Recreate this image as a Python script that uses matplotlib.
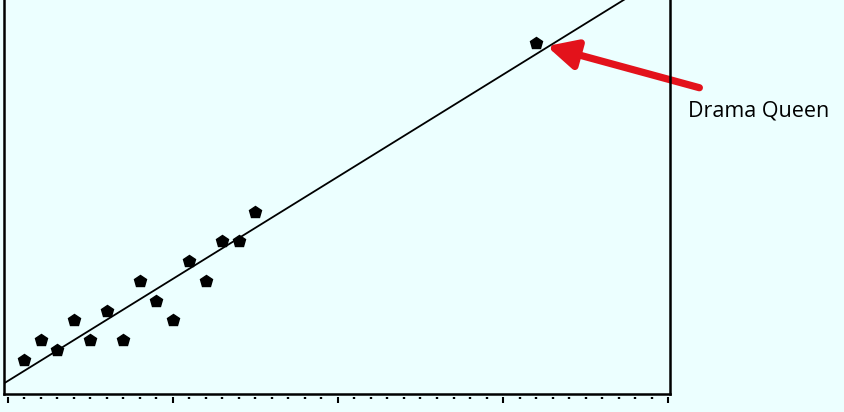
import numpy as np
import matplotlib
matplotlib.use("Agg")
import matplotlib.pyplot as plt
from matplotlib.ticker import MultipleLocator

# scatter values (x in minor-tick units)
x_vals = [1, 2, 3, 4, 5, 6, 7, 8, 9, 10, 11, 12, 13, 14, 15, 32]
y_vals = [3, 5, 4, 7, 5, 8, 5, 11, 9, 7, 13, 11, 15, 15, 18, 35]
outlier_label = "Drama Queen"

bg = "#ECFFFF"


def main():
    x = np.array(x_vals, dtype=float)
    y = np.array(y_vals, dtype=float)
    slope, icpt = np.polyfit(x, y, 1)

    fig = plt.figure(figsize=(8.44, 4.12), dpi=100, facecolor=bg)
    ax = fig.add_axes([4 / 844, 18 / 412, 666 / 844, 394 / 412], facecolor=bg)

    ax.set_xlim(-0.24, 40.12)
    ax.set_ylim(-0.43, 39.36)

    # fit line across the whole axis
    xl = np.array(ax.get_xlim())
    ax.plot(xl, icpt + slope * xl, color="black", lw=1.3, zorder=2)
    ax.plot(x, y, linestyle="none", marker="p", ms=9, color="black", zorder=3)

    # spines
    ax.spines["top"].set_visible(False)
    for s in ["left", "right", "bottom"]:
        ax.spines[s].set_linewidth(1.8)
        ax.spines[s].set_color("black")
    ax.set_yticks([])
    ax.tick_params(axis="x", which="both", length=0, labelbottom=False)

    # detached tick row under the axis
    sec = ax.secondary_xaxis(-0.008)
    sec.spines["bottom"].set_visible(False)
    sec.xaxis.set_major_locator(MultipleLocator(10))
    sec.xaxis.set_minor_locator(MultipleLocator(1))
    sec.tick_params(which="major", length=4.5, width=1.5, color="black",
                    labelbottom=False)
    sec.tick_params(which="minor", length=1.4, width=1.7, color="black")

    # arrow + label
    ax.annotate("", xy=(32.65, 34.7), xytext=(41.9, 30.5),
                xycoords="data", textcoords="data", annotation_clip=False,
                arrowprops=dict(arrowstyle="-|>,head_length=0.8,head_width=0.4",
                                color="#E3121B", lw=5.2, mutation_scale=22,
                                shrinkA=0, shrinkB=0),
                zorder=1)
    fig.text(688 / 844, 1 - 116 / 412, outlier_label, fontsize=15.5,
             family="Open Sans", color="black", ha="left", va="baseline")

    fig.savefig("out.png", dpi=100, facecolor=bg)


if __name__ == "__main__":
    main()
